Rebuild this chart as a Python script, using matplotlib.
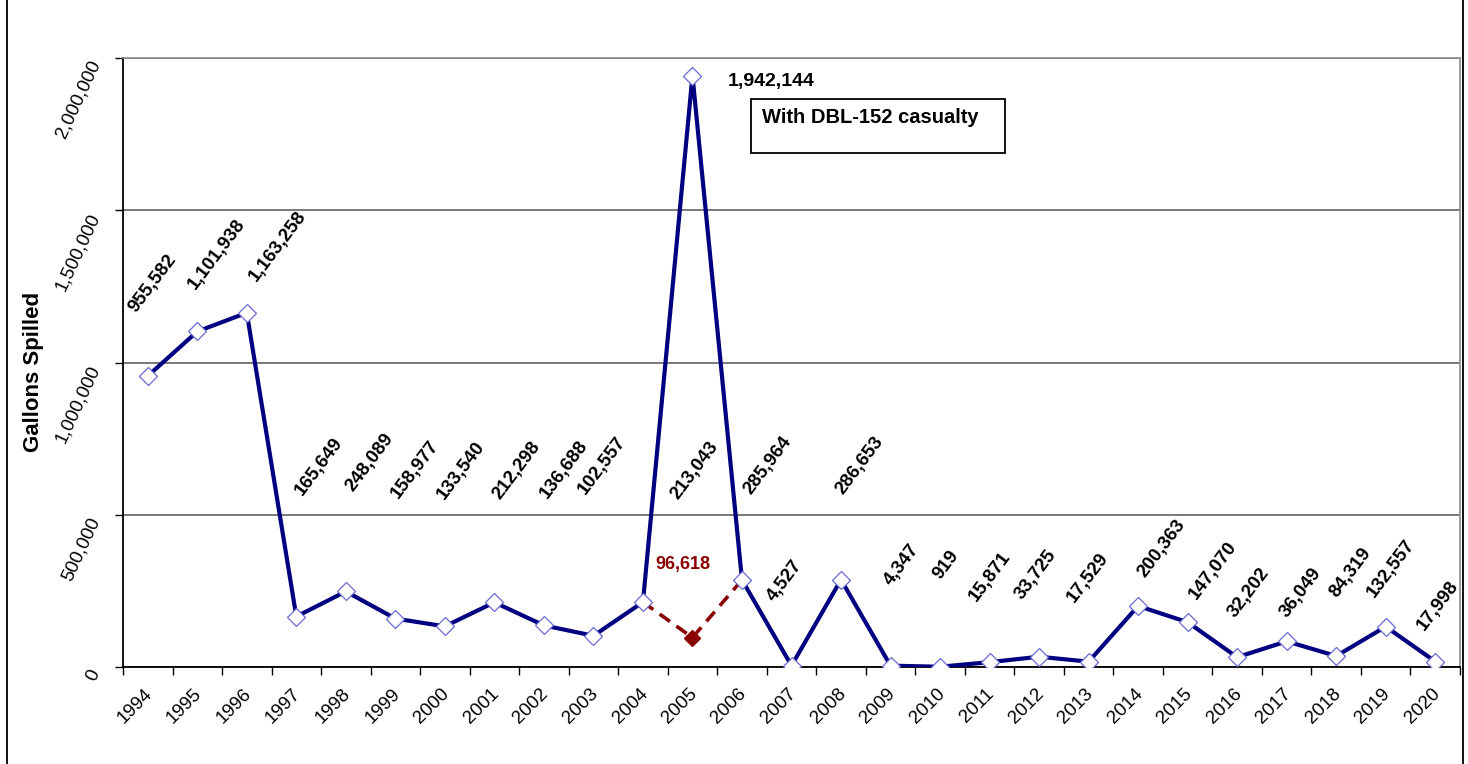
import matplotlib.pyplot as plt
import matplotlib.transforms as mtransforms
from matplotlib.lines import Line2D
from matplotlib.patches import Rectangle
import numpy as np

plt.rcParams['font.family'] = ['Liberation Sans', 'DejaVu Sans']

# gallons spilled per year
years = list(range(1994, 2021))
gallons = [955582, 1101938, 1163258, 165649, 248089, 158977, 133540, 212298,
           136688, 102557, 213043, 1942144, 285964, 4527, 286653, 4347, 919,
           15871, 33725, 17529, 200363, 147070, 32202, 84319, 36049, 132557, 17998]

# 2005 without the DBL-152 casualty
alt_years = [2004, 2005, 2006]
alt_gallons = [213043, 96618, 285964]

# where each value label sits: shift in category units, height in gallons
lab_dx = [-0.23, -0.03, 0.2, 0.13, 0.15, 0.06, 0.0, 0.11, 0.08, -0.17,
          0.71, 0.72, 0.19, -0.34, 0.03, 0.02, 0.0, -0.26, -0.35, -0.28,
          0.14, 0.18, -0.03, 1.01, -0.98, -0.22, -0.21]
lab_y = [1162000, 1238000, 1265000, 561000, 575000, 551000, 548000, 548000,
         552000, 565000, 548000, 1924000, 565000, 214000, 565000, 266000, 286000,
         214000, 220000, 209000, 291000, 220000, 161000, 227000, 161000, 227000, 116000]

yt = [0, 500000, 1000000, 1500000, 2000000]

fig = plt.figure(figsize=(14.68, 7.64), dpi=100)
ax = fig.add_axes([123 / 1468, 1 - 667 / 764, 1337 / 1468, 609 / 764])

x = np.arange(len(years))
alt_x = [years.index(y) for y in alt_years]

ax.plot(alt_x, alt_gallons, color='#8b0000', lw=2.6, ls=(0, (3.5, 2.2)), zorder=3)
ax.plot(alt_x[1], alt_gallons[1], marker='D', ms=8.5, color='#8b0000', zorder=5)
ax.plot(x, gallons, color='#000080', lw=3, zorder=4,
        marker='D', ms=9.5, mfc='white', mec='#6a6ad0', mew=0.9)

ax.set_xlim(-0.5, len(years) - 0.5)
ax.set_ylim(0, 2000000)

# tick marks between categories; labels drawn by hand below
ax.set_xticks(np.arange(len(years) + 1) - 0.5)
ax.set_xticklabels([])
ax.tick_params(axis='x', length=6, width=1, direction='out')
ax.set_yticks(yt)
ax.set_yticklabels([])
ax.tick_params(axis='y', length=6, width=1, direction='out')

px = 1 / 100
xlab_tr = ax.get_xaxis_transform() + mtransforms.ScaledTranslation(-4 * px, -18 * px, fig.dpi_scale_trans)
for i, y in enumerate(years):
    ax.text(i, 0, str(y), transform=xlab_tr, fontsize=13.5, rotation=45,
            rotation_mode='anchor', ha='right', va='top')

ylab_tr = ax.get_yaxis_transform() + mtransforms.ScaledTranslation(-35 * px, 0, fig.dpi_scale_trans)
for v in yt:
    ax.text(0, v, '{:,}'.format(v), transform=ylab_tr, fontsize=13.5, rotation=65,
            rotation_mode='anchor', ha='right', va='top')

ax.yaxis.grid(True, color='#555555', lw=1.1)
ax.set_axisbelow(True)
for s in ['top', 'right']:
    ax.spines[s].set_color('#8c8c8c')
    ax.spines[s].set_linewidth(1.2)
for s in ['left', 'bottom']:
    ax.spines[s].set_color('black')
    ax.spines[s].set_linewidth(1.3)

ax.set_ylabel('Gallons Spilled', fontsize=16, fontweight='bold')
ax.yaxis.set_label_coords(-0.059, 0.485)

# value labels
for i, v in enumerate(gallons):
    txt = '{:,}'.format(v)
    if years[i] == 2005:
        ax.text(i + lab_dx[i], lab_y[i], txt, fontsize=14, fontweight='bold',
                ha='left', va='center', zorder=6)
    else:
        ax.text(i + lab_dx[i], lab_y[i], txt, fontsize=13.5, fontweight='bold',
                rotation=53, rotation_mode='anchor', ha='left', va='baseline', zorder=6)

ax.text(alt_x[1] - 0.19, 335000, '{:,}'.format(alt_gallons[1]), color='#8b0000',
        fontsize=13, fontweight='bold', ha='center', va='center', zorder=6)

# note box next to the 2005 peak
ax.add_patch(Rectangle((0.4697, 0.844), 0.19, 0.0887, transform=ax.transAxes,
                       fill=False, ec='black', lw=1.3, clip_on=False, zorder=6))
ax.text(0.478, 0.903, 'With DBL-152 casualty', transform=ax.transAxes,
        fontsize=14.5, fontweight='bold', ha='left', va='center', zorder=7)

# chart border
for xf in [7 / 1468, 1463 / 1468]:
    fig.add_artist(Line2D([xf, xf], [0, 1], transform=fig.transFigure,
                          color='black', lw=1.3))

fig.savefig('out.png', dpi=100)
